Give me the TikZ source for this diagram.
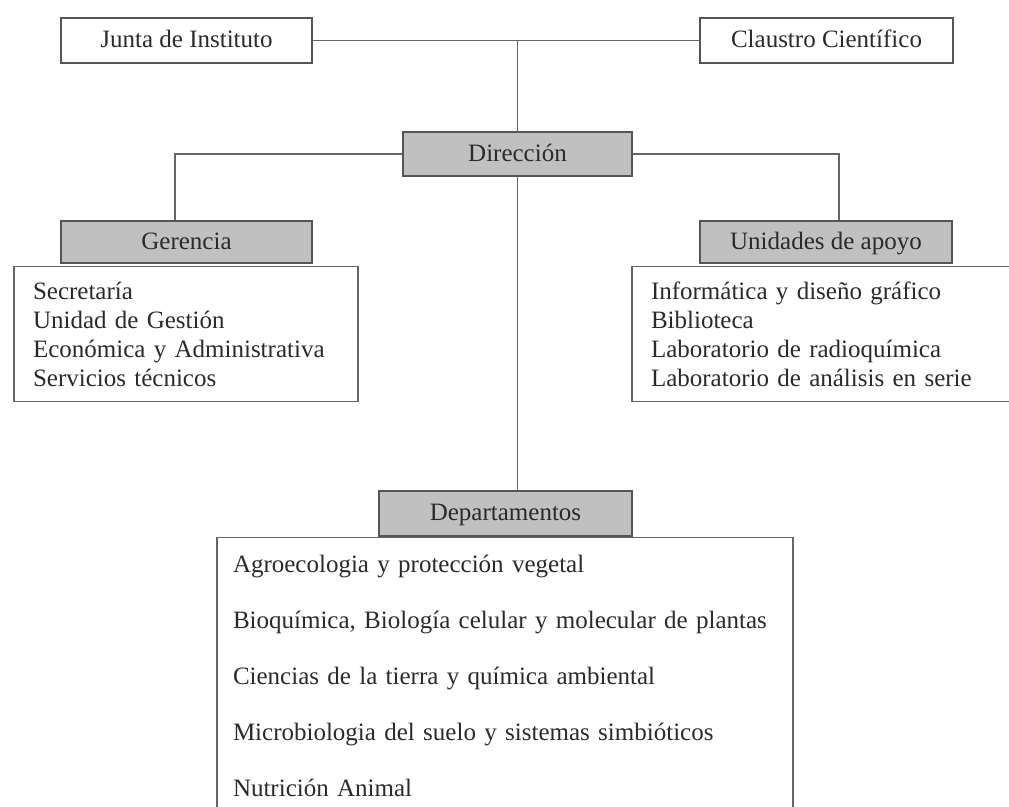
\documentclass[tikz,border=0pt]{standalone}
\usepackage{fontspec}
\setmainfont{Liberation Serif}
\usetikzlibrary{positioning}
\definecolor{boxgrey}{HTML}{C0C0C0}
\definecolor{edgegrey}{HTML}{555555}
\definecolor{inkgrey}{HTML}{2A2A2A}
\tikzstyle{box} = [rectangle, draw=edgegrey, line width=0.8pt, minimum width=125.5pt, minimum height=22.5pt, text height=1.85ex, text depth=0.25ex, text centered]
\tikzstyle{greybox} = [box, fill=boxgrey, minimum height=21pt]
\tikzstyle{listbox} = [rectangle, draw=edgegrey!90, line width=0.8pt, align=left, inner xsep=9.5pt, minimum height=67.5pt]
\tikzstyle{link} = [draw=edgegrey!90, line width=0.8pt]

\begin{document}
\begin{tikzpicture}[x=0.5pt, y=-0.5pt, font=\fontsize{12.5}{14.5}\selectfont, text=inkgrey]

            \useasboundingbox (0,0) rectangle (1009,807);
            \clip (0,0) rectangle (1009,807);

            \node (junta) [box] at (186.5,40.5) {Junta de Instituto};
            \node (claustro) [box, minimum width=126.5pt] at (826.5,40.5) {Claustro Científico};
            \node (direccion) [greybox, minimum width=114.5pt, minimum height=22pt] at (517.5,154) {Dirección};
            \node (gerencia) [greybox] at (186.5,242) {Gerencia};
            \node (unidades) [greybox, minimum width=126pt] at (826,242) {Unidades de apoyo};
            \node (departamentos) [greybox, minimum width=126.5pt, minimum height=22.5pt] at (505.5,513.5) {Departamentos};

            \node (gerlist) [listbox, text width=153pt, below right=1pt and -23.5pt of gerencia.south west] {Secretaría\\Unidad de Gestión\\Económica y Administrativa\\Servicios técnicos};
            \node (unilist) [listbox, text width=176pt, below right=1pt and -34pt of unidades.south west] {Informática y diseño gráfico\\Biblioteca\\Laboratorio de radioquímica\\Laboratorio de análisis en serie};
            \node (deplist) [listbox, text width=272pt, inner xsep=8pt, minimum height=138pt, font=\fontsize{12.5}{28}\selectfont, below right=0pt and -81pt of departamentos.south west] {Agroecologia y protección vegetal\\Bioquímica, Biología celular y molecular de plantas\\Ciencias de la tierra y química ambiental\\Microbiologia del suelo y sistemas simbióticos\\Nutrición Animal};

            \draw [link] (junta) -- (claustro);
            \draw [link] (direccion.north) -- (direccion.north |- junta.east);
            \draw [link] (direccion.west) -| ([xshift=-5.75pt]gerencia.north);
            \draw [link] (direccion.east) -| ([xshift=6.5pt]unidades.north);
            \draw [link] (direccion.south) -- (direccion.south |- departamentos.north);

        \end{tikzpicture}
\end{document}
